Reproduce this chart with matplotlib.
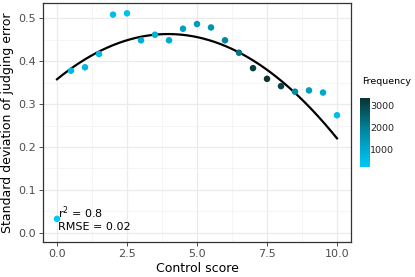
import matplotlib
matplotlib.use('Agg')
import matplotlib.pyplot as plt
from matplotlib.colors import LinearSegmentedColormap, Normalize
from matplotlib.ticker import MultipleLocator
import numpy as np

# data
control_score = [0.0, 0.5, 1.0, 1.5, 2.0, 2.5, 3.0, 3.5, 4.0, 4.5, 5.0,
                 5.5, 6.0, 6.5, 7.0, 7.5, 8.0, 8.5, 9.0, 9.5, 10.0]
sd_error = [0.032, 0.378, 0.386, 0.417, 0.509, 0.512, 0.449, 0.462, 0.449, 0.476, 0.487,
            0.479, 0.449, 0.420, 0.384, 0.359, 0.342, 0.329, 0.332, 0.327, 0.274]
frequency = [200, 600, 600, 550, 450, 400, 850, 850, 950, 1200, 1350,
             1550, 1850, 2200, 3100, 3300, 3000, 1800, 1300, 1000, 450]
# quadratic fit curve coefficients (as drawn)
fit_coef = [-0.0067, 0.0532, 0.358]
r2_text = r'$\mathregular{r^2}$ = 0.8'
rmse_text = 'RMSE = 0.02'

cmap = LinearSegmentedColormap.from_list('freq', ['#00C8F8', '#008CA6', '#0B3333'])
norm = Normalize(vmin=180, vmax=3320)

fig = plt.figure(figsize=(4.15, 2.77), dpi=100)
ax = fig.add_axes([0.1036, 0.1264, 0.7422, 0.8626])

ax.xaxis.set_major_locator(MultipleLocator(2.5))
ax.xaxis.set_minor_locator(MultipleLocator(1.25))
ax.yaxis.set_major_locator(MultipleLocator(0.1))
ax.yaxis.set_minor_locator(MultipleLocator(0.05))
ax.grid(which='major', color='#EBEBEB', linewidth=0.9)
ax.grid(which='minor', color='#F2F2F2', linewidth=0.5)
ax.set_axisbelow(True)

xs = np.linspace(0, 10, 200)
ax.plot(xs, np.polyval(fit_coef, xs), color='black', linewidth=1.6, zorder=2)
ax.scatter(control_score, sd_error, c=frequency, cmap=cmap, norm=norm,
           s=22, linewidths=0, zorder=3)

ax.text(0.02, 0.035, r2_text, fontsize=8, ha='left', va='baseline', zorder=4)
ax.text(0.02, 0.005, rmse_text, fontsize=8, ha='left', va='baseline', zorder=4)

ax.set_xlim(-0.5, 10.5)
ax.set_ylim(-0.022, 0.536)
ax.set_xticks([0, 2.5, 5, 7.5, 10])
ax.set_xticklabels(['0.0', '2.5', '5.0', '7.5', '10.0'])
ax.set_yticks([0, 0.1, 0.2, 0.3, 0.4, 0.5])
ax.set_yticklabels(['0.0', '0.1', '0.2', '0.3', '0.4', '0.5'])
ax.tick_params(which='major', length=3, width=0.6, color='#333333',
               labelcolor='#4D4D4D', labelsize=8, pad=2)
ax.tick_params(which='minor', length=0)
for sp in ax.spines.values():
    sp.set_color('#333333')
    sp.set_linewidth(0.9)
ax.set_xlabel('Control score', fontsize=9, labelpad=2)
ax.set_ylabel('Standard deviation of judging error', fontsize=9, labelpad=3)

cax = fig.add_axes([0.8675, 0.397, 0.0217, 0.249])
grad = np.linspace(180, 3320, 256).reshape(-1, 1)
cax.imshow(grad, aspect='auto', cmap=cmap, norm=norm, origin='lower',
           extent=[0, 1, 180, 3320])
cax.set_xticks([])
cax.yaxis.tick_right()
cax.set_yticks([1000, 2000, 3000])
cax.tick_params(axis='y', length=0, labelsize=6.8, pad=1, labelcolor='#222222')
for sp in cax.spines.values():
    sp.set_visible(False)
fig.text(0.872, 0.705, 'Frequency', fontsize=6.8, ha='left', va='center')

fig.savefig('out.png', dpi=100)
